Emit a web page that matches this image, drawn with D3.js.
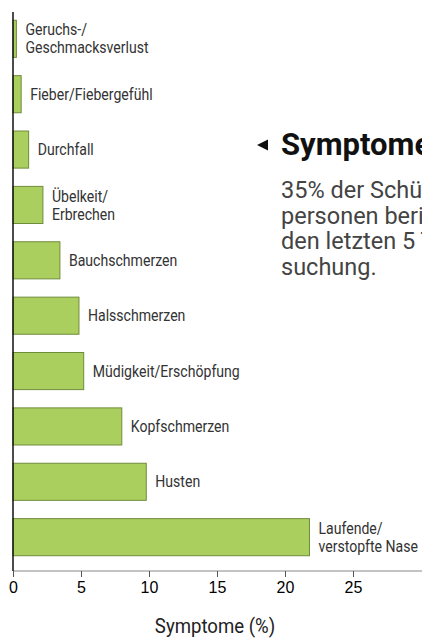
<!DOCTYPE html>
<html>
<head>
<meta charset="utf-8">
<script src="https://cdn.jsdelivr.net/npm/d3@7"></script>
<style>
  body { margin: 0; background: #fff; }
  svg { display: block; }
</style>
</head>
<body>
<div id="chart"></div>
<script>
// Daten
const symptome = [
  ["Geruchs-/", "Geschmacksverlust"],
  ["Fieber/Fiebergefühl"],
  ["Durchfall"],
  ["Übelkeit/", "Erbrechen"],
  ["Bauchschmerzen"],
  ["Halsschmerzen"],
  ["Müdigkeit/Erschöpfung"],
  ["Kopfschmerzen"],
  ["Husten"],
  ["Laufende/", "verstopfte Nase"]
];
const werte = [0.25, 0.6, 1.15, 2.2, 3.45, 4.85, 5.2, 8.0, 9.8, 21.8];
const xTicks = [0, 5, 10, 15, 20, 25];
const titel = "Symptome";
const textZeilen = [
  "35% der Schülerinnen und Schüler bzw. Kontakt-",
  "personen berichteten über Symptome in",
  "den letzten 5 Tagen vor der Unter-",
  "suchung."
];

const W = 422, H = 638;
const x0 = 13;

const svg = d3.select("#chart").append("svg")
  .attr("width", W)
  .attr("height", H);

const x = d3.scaleLinear().domain([0, 30]).range([x0, x0 + 30 * 13.6]);
const y = d3.scaleBand()
  .domain(symptome.map((d, i) => i))
  .range([2, 574])
  .padding(0.33);

// Balken
svg.selectAll(".bar")
  .data(werte)
  .enter()
  .append("rect")
  .attr("class", "bar")
  .attr("x", x(0))
  .attr("y", (d, i) => y(i))
  .attr("width", d => x(d) - x(0))
  .attr("height", y.bandwidth())
  .attr("fill", "#abcf5e")
  .attr("stroke", "#6f8c3c")
  .attr("stroke-width", 1);

// Beschriftungen
const lab = svg.selectAll(".lab")
  .data(symptome)
  .enter()
  .append("text")
  .attr("class", "lab")
  .attr("font-family", "Roboto, sans-serif")
  .attr("font-size", "16px")
  .attr("fill", "#333")
  .attr("transform", (d, i) => {
    const tx = x(werte[i]) + 9;
    const ty = y(i) + y.bandwidth() / 2;
    return `translate(${tx},${ty}) scale(0.88,1)`;
  });

lab.selectAll("tspan")
  .data(d => d.map((t, j) => ({ t, j, n: d.length })))
  .enter()
  .append("tspan")
  .attr("x", 0)
  .attr("y", d => (d.j - (d.n - 1) / 2) * 18)
  .attr("dy", "0.35em")
  .text(d => d.t);

// x-Achse
const xAxis = svg.append("g")
  .attr("transform", "translate(0,571)")
  .call(d3.axisBottom(x).tickValues(xTicks).tickSize(6).tickPadding(5));
xAxis.select(".domain").attr("stroke", "#888").attr("d", `M${x0},0H${W}`);
xAxis.selectAll(".tick line").attr("stroke", "#555");
xAxis.selectAll(".tick text")
  .attr("font-family", "'Liberation Sans', Arial, sans-serif")
  .attr("font-size", "16px")
  .attr("fill", "#000");

// y-Achse
svg.append("line")
  .attr("x1", x0).attr("x2", x0)
  .attr("y1", 12).attr("y2", 571)
  .attr("stroke", "#111")
  .attr("stroke-width", 1.5);

// Achsentitel
svg.append("text")
  .attr("transform", "translate(215,633) scale(0.93,1)")
  .attr("text-anchor", "middle")
  .attr("font-family", "Roboto, sans-serif")
  .attr("font-size", "20px")
  .attr("fill", "#222")
  .text("Symptome (%)");

// Annotation
svg.append("path")
  .attr("d", "M257,145 L268,139.5 L268,150.5 Z")
  .attr("fill", "#111");

svg.append("text")
  .attr("x", 281)
  .attr("y", 155)
  .attr("font-family", "Roboto, sans-serif")
  .attr("font-size", "31px")
  .attr("font-weight", "bold")
  .attr("fill", "#111")
  .text(titel);

svg.append("g").selectAll("text")
  .data(textZeilen)
  .enter()
  .append("text")
  .attr("x", 281)
  .attr("y", (d, i) => 198 + i * 25.5)
  .attr("font-family", "Roboto, sans-serif")
  .attr("font-size", "23.5px")
  .attr("fill", "#444")
  .text(d => d);
</script>
</body>
</html>
